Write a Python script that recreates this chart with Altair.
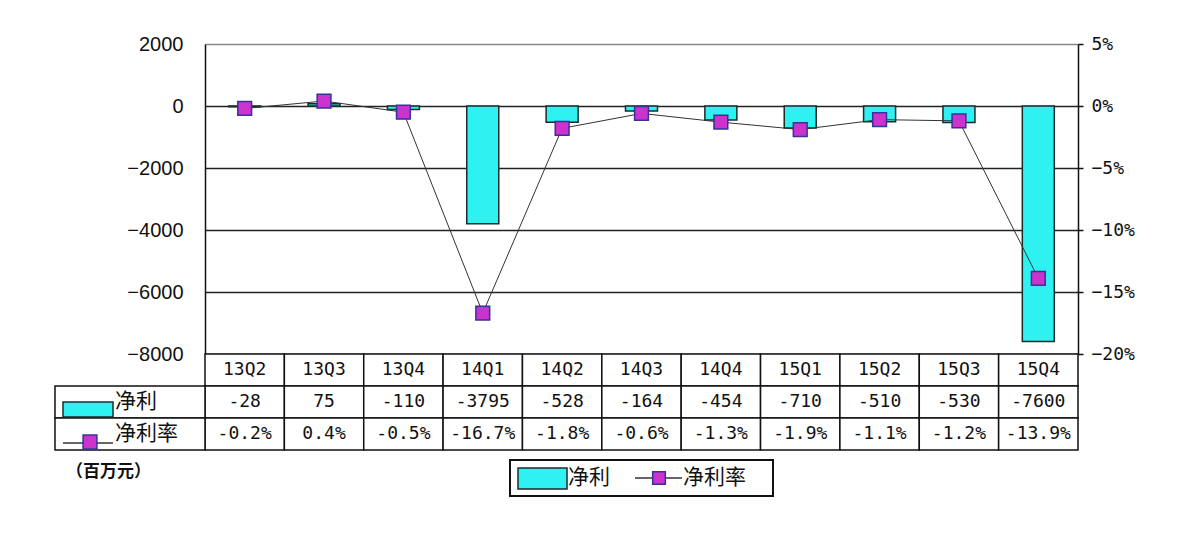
import altair as alt
import pandas as pd

# ---- data ----
quarters = ["13Q2", "13Q3", "13Q4", "14Q1", "14Q2", "14Q3", "14Q4", "15Q1", "15Q2", "15Q3", "15Q4"]
net_profit = [-28, 75, -110, -3795, -528, -164, -454, -710, -510, -530, -7600]
net_margin = [-0.2, 0.4, -0.5, -16.7, -1.8, -0.6, -1.3, -1.9, -1.1, -1.2, -13.9]
left_ticks = [2000, 0, -2000, -4000, -6000, -8000]
right_ticks = [5, 0, -5, -10, -15, -20]
series_names = ["净利", "净利率"]
unit_label = "（百万元）"

# ---- styles ----
CYAN = "#2EF2F2"
BAR_STROKE = "#1b2b2b"
MAGENTA = "#CC33CC"
MK_STROKE = "#333399"
INK = "#111111"
W, H, TH = 873, 310, 96

df = pd.DataFrame({"q": quarters, "profit": net_profit, "margin": net_margin})

xs = alt.X("q:N", sort=quarters,
           scale=alt.Scale(domain=quarters, paddingInner=0, paddingOuter=0), axis=None)

yl = alt.Y("profit:Q",
           scale=alt.Scale(domain=[-8000, 2000], nice=False, zero=False),
           axis=alt.Axis(values=left_ticks, title=None, grid=True, format="d",
                         gridColor={"condition": {"test": "datum.value === 2000", "value": "#8a8a8a"},
                                    "value": "#222222"},
                         gridWidth=1.5, ticks=False, domainColor=INK, domainWidth=1.5,
                         labelFont="Liberation Sans", labelFontSize=20, labelColor=INK,
                         labelPadding=22))

yr = alt.Y("margin:Q",
           scale=alt.Scale(domain=[-20, 5], nice=False, zero=False),
           axis=alt.Axis(orient="right", values=right_ticks, title=None, grid=False,
                         ticks=True, tickSize=5, tickColor=INK, tickWidth=1.5,
                         domainColor=INK, domainWidth=1.5,
                         labelFont="DejaVu Sans Mono", labelFontSize=18, labelColor=INK,
                         labelPadding=8,
                         labelExpr="format(datum.value, 'd') + '%'"))

bars = alt.Chart(df).mark_bar(size=32, color=CYAN, stroke=BAR_STROKE, strokeWidth=1.5).encode(x=xs, y=yl)
line = alt.Chart(df).mark_line(color="#333333", strokeWidth=1).encode(x=xs, y=yr)
pts = alt.Chart(df).mark_square(size=190, fill=MAGENTA, stroke=MK_STROKE, strokeWidth=1.5,
                                opacity=1).encode(x=xs, y=yr)

main = alt.layer(bars, alt.layer(line, pts)).resolve_scale(y="independent").properties(width=W, height=H)

# ---- data table under the plot ----
rows = ["hdr", series_names[0], series_names[1]]
recs = []
for i, q in enumerate(quarters):
    recs.append({"q": q, "row": "hdr", "label": q})
    recs.append({"q": q, "row": series_names[0], "label": str(net_profit[i])})
    recs.append({"q": q, "row": series_names[1], "label": f"{net_margin[i]:.1f}%"})
tdf = pd.DataFrame(recs)

ys = alt.Y("row:N", sort=rows, scale=alt.Scale(domain=rows, paddingInner=0, paddingOuter=0), axis=None)

cells = alt.Chart(tdf).mark_rect(fill="white", stroke=INK, strokeWidth=1.5).encode(x=xs, y=ys)
cell_txt = alt.Chart(tdf).mark_text(font="DejaVu Sans Mono", fontSize=18, color=INK).encode(
    x=xs, y=ys, text="label:N")

ldf = pd.DataFrame({"row": series_names, "name": series_names})
left_cells = alt.Chart(ldf).mark_rect(fill="white", stroke=INK, strokeWidth=1.5).encode(
    x=alt.value(-150), x2=alt.value(0), y=ys)
left_txt = alt.Chart(ldf).mark_text(align="left", font="Noto Sans CJK SC", fontSize=21, color=INK).encode(
    x=alt.value(-90), y=ys, text="name:N")

one = pd.DataFrame({"k": [0]})
sw1 = alt.Chart(one).mark_rect(fill=CYAN, stroke=BAR_STROKE, strokeWidth=1.5).encode(
    x=alt.value(-142), x2=alt.value(-92), y=alt.value(48), y2=alt.value(63))
ln1 = alt.Chart(one).mark_rule(color="#333333", strokeWidth=1.5).encode(
    x=alt.value(-142), x2=alt.value(-92), y=alt.value(89))
sq1 = alt.Chart(one).mark_square(size=190, fill=MAGENTA, stroke=MK_STROKE, strokeWidth=1.5, opacity=1).encode(
    x=alt.value(-115), y=alt.value(88))

unit = alt.Chart(pd.DataFrame({"t": [unit_label]})).mark_text(
    align="left", font="Noto Sans CJK SC", fontSize=17, fontWeight="bold", color=INK).encode(
    x=alt.value(-139), y=alt.value(118), text="t:N")

# legend box
lg_box = alt.Chart(one).mark_rect(fill="white", stroke=INK, strokeWidth=2).encode(
    x=alt.value(305), x2=alt.value(568), y=alt.value(106), y2=alt.value(142))
lg_sw = alt.Chart(one).mark_rect(fill=CYAN, stroke=BAR_STROKE, strokeWidth=1.5).encode(
    x=alt.value(313), x2=alt.value(362), y=alt.value(114), y2=alt.value(135))
lg_ln = alt.Chart(one).mark_rule(color="#333333", strokeWidth=1.5).encode(
    x=alt.value(430), x2=alt.value(477), y=alt.value(124))
lg_sq = alt.Chart(one).mark_square(size=160, fill=MAGENTA, stroke=MK_STROKE, strokeWidth=1.5, opacity=1).encode(
    x=alt.value(454), y=alt.value(124))
lg_t1 = alt.Chart(pd.DataFrame({"t": [series_names[0]]})).mark_text(
    align="left", font="Noto Sans CJK SC", fontSize=21, color=INK).encode(
    x=alt.value(363), y=alt.value(124), text="t:N")
lg_t2 = alt.Chart(pd.DataFrame({"t": [series_names[1]]})).mark_text(
    align="left", font="Noto Sans CJK SC", fontSize=21, color=INK).encode(
    x=alt.value(478), y=alt.value(124), text="t:N")

table = alt.layer(cells, cell_txt, left_cells, left_txt, sw1, ln1, sq1, unit,
                  lg_box, lg_sw, lg_ln, lg_sq, lg_t1, lg_t2).properties(width=W, height=TH)

chart = alt.vconcat(main, table, spacing=0, bounds="flush").properties(
    padding={"left": 54, "top": 34, "right": 10, "bottom": 10}
).configure_view(stroke=None)

chart.save("out.html", embed_options={"renderer": "svg", "actions": False})
